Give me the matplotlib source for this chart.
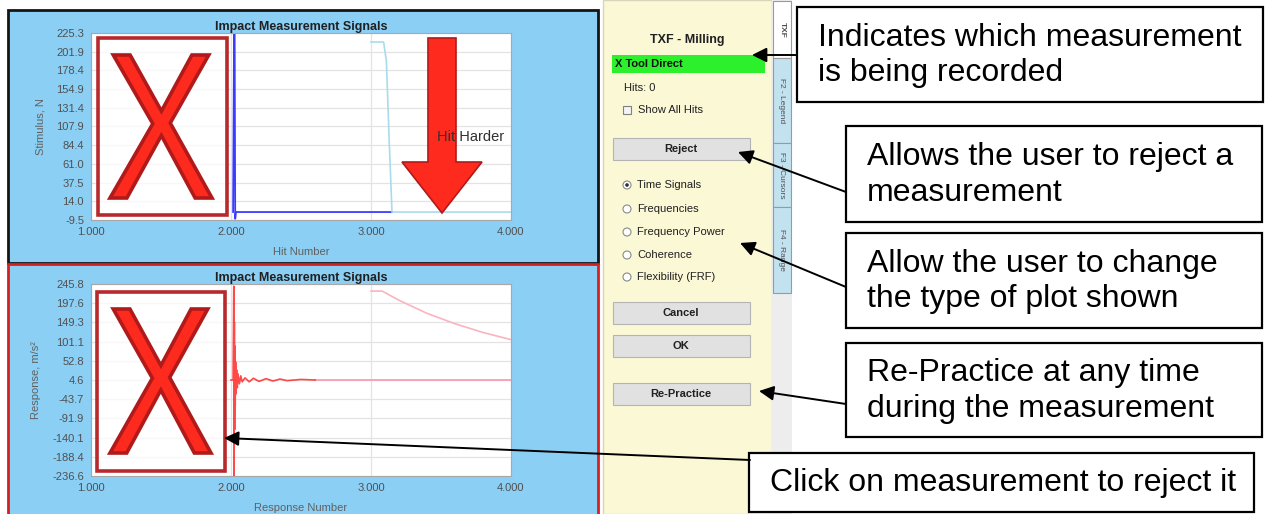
import matplotlib
matplotlib.use('Agg')
import matplotlib.pyplot as plt
from matplotlib.patches import Rectangle, Polygon, Circle, PathPatch
from matplotlib.textpath import TextPath
from matplotlib.font_manager import FontProperties
from matplotlib.transforms import Affine2D

plt.rcParams['font.family'] = ['Liberation Sans', 'DejaVu Sans']

# ---- data ----
hit_ticks = [1.0, 2.0, 3.0, 4.0]
hit_labels = ['1.000', '2.000', '3.000', '4.000']

stim_ticks = [-9.5, 14.0, 37.5, 61.0, 84.4, 107.9, 131.4, 154.9, 178.4, 201.9, 225.3]
resp_ticks = [-236.6, -188.4, -140.1, -91.9, -43.7, 4.6, 52.8, 101.1, 149.3, 197.6, 245.8]

# hit 2 force (blue) and hit 3 force (light blue)
stim2_x = [2.015, 2.022, 2.026, 2.03, 2.035, 2.04, 3.15]
stim2_y = [0.5, 226.0, 226.0, -8.0, 0.5, 0.5, 0.5]
stim3_x = [3.0, 3.09, 3.11, 3.13, 3.15, 4.0]
stim3_y = [214.0, 214.0, 190.0, 90.0, 0.5, 0.5]

# hit 2 response (red) and hit 3 response (pink)
resp2_x = [2.0, 2.015, 2.02, 2.022, 2.024, 2.026, 2.028, 2.03, 2.033, 2.036, 2.04,
           2.045, 2.05, 2.06, 2.07, 2.08, 2.1, 2.13, 2.16, 2.2, 2.25, 2.3, 2.35,
           2.4, 2.5, 2.6]
resp2_y = [4.6, 4.6, 240.0, -236.0, 150.0, -120.0, 90.0, -60.0, 50.0, -30.0, 30.0,
           -15.0, 20.0, -5.0, 15.0, 0.0, 10.0, 0.0, 9.0, 1.0, 8.0, 2.0, 7.0,
           3.0, 6.0, 4.6]
resp3_x = [3.0, 3.08, 3.2, 3.4, 3.6, 3.8, 4.0]
resp3_y = [228.0, 228.0, 205.0, 172.0, 146.0, 124.0, 106.0]
flat_x = [2.6, 4.0]
flat_y = [4.6, 4.6]

plot_types = ['Time Signals', 'Frequencies', 'Frequency Power', 'Coherence', 'Flexibility (FRF)']
tabs = ['TXF', 'F2 - Legend', 'F3 - Cursors', 'F4 - Range']
callouts = ['Indicates which measurement\nis being recorded',
            'Allows the user to reject a\nmeasurement',
            'Allow the user to change\nthe type of plot shown',
            'Re-Practice at any time\nduring the measurement',
            'Click on measurement to reject it']

W, H = 1275, 514
fig = plt.figure(figsize=(W / 100, H / 100), dpi=100)


def px_axes(x0, y0, x1, y1, z):
    ax = fig.add_axes([x0 / W, 1 - y1 / H, (x1 - x0) / W, (y1 - y0) / H])
    ax.set_zorder(z)
    return ax


def full_axes(z):
    ax = px_axes(0, 0, W, H, z)
    ax.set_xlim(0, W)
    ax.set_ylim(H, 0)
    ax.axis('off')
    ax.patch.set_alpha(0)
    return ax


bg = full_axes(0)
fg = full_axes(5)

# ---- window backgrounds ----
blue = '#8CCFF5'
bg.add_patch(Rectangle((8, 10), 590, 253, fc=blue, ec='#151515', lw=2))
bg.add_patch(Rectangle((8, 264), 590, 254, fc=blue, ec='#D42020', lw=2))
bg.add_patch(Rectangle((603, 0), 169, H, fc='#FBF8D6', ec='#D8D6B8', lw=1))
bg.add_patch(Rectangle((772, 0), 20, H, fc='#EDEDED', ec='none'))

# ---- plots ----
def style_plot(ax, ticks, xlabel, ylabel):
    ax.set_xlim(1, 4)
    ax.set_ylim(ticks[0], ticks[-1])
    ax.set_yticks(ticks)
    ax.set_yticklabels([f'{t:.1f}' for t in ticks])
    ax.set_xticks(hit_ticks)
    ax.set_xticklabels(hit_labels)
    ax.tick_params(length=0, labelsize=8, labelcolor='#505050', pad=5)
    ax.grid(color='#E3E3E3', lw=0.9)
    ax.set_axisbelow(True)
    for s in ax.spines.values():
        s.set_color('#A8A8A8')
    ax.set_title('Impact Measurement Signals', fontsize=9, fontweight='bold',
                 color='#202020', pad=2)
    ax.set_xlabel(xlabel, fontsize=8, color='#606060', labelpad=7)
    ax.set_ylabel(ylabel, fontsize=8, color='#606060', labelpad=8)


ax1 = px_axes(91, 33, 511, 220, 1)
style_plot(ax1, stim_ticks, 'Hit Number', 'Stimulus, N')
ax1.plot(stim2_x, stim2_y, color='#3C3CFF', lw=1.3)
ax1.plot(stim3_x, stim3_y, color='#A8DCEA', lw=1.2)

ax2 = px_axes(91, 284, 511, 476, 1)
style_plot(ax2, resp_ticks, 'Response Number', 'Response, m/s²')
ax2.plot(flat_x, flat_y, color='#F7A0B0', lw=1.3)
ax2.plot(resp3_x, resp3_y, color='#F9B4C0', lw=1.2)
ax2.plot(resp2_x, resp2_y, color='#FF2A2A', lw=1.2, alpha=0.85)


# ---- reject marks ----
def big_x(x0, y0, x1, y1):
    tp = TextPath((0, 0), 'X', size=1, prop=FontProperties(family='Liberation Sans'))
    ext = tp.get_extents()
    tr = (Affine2D().translate(-ext.x0, -ext.y0)
          .scale((x1 - x0) / ext.width, -(y1 - y0) / ext.height)
          .translate(x0, y1))
    fg.add_patch(PathPatch(tr.transform_path(tp), fc='#FF2A1E', ec='#B01A1A', lw=2.6))


for (bx0, by0, bx1, by1), (gx0, gy0, gx1, gy1) in [((98, 38, 227, 215), (110, 55, 212, 198)),
                                                   ((97, 292, 225, 471), (110, 309, 211, 453))]:
    fg.add_patch(Rectangle((bx0, by0), bx1 - bx0, by1 - by0, fc='white', alpha=0.75, ec='none'))
    fg.add_patch(Rectangle((bx0, by0), bx1 - bx0, by1 - by0, fc='none', ec='#B8292B', lw=2.6))
    big_x(gx0, gy0, gx1, gy1)

# hit harder arrow
fg.add_patch(Polygon([(428, 38), (456, 38), (456, 162), (482, 162), (442, 213),
                      (402, 162), (428, 162)], closed=True, fc='#FF2A1E', ec='#B01A1A', lw=1.2))
fg.text(437, 137, 'Hit Harder', fontsize=10.5, color='#303030', va='center', ha='left')

# ---- side control panel ----
bg.text(687, 40, 'TXF - Milling', fontsize=9, fontweight='bold', color='#202020',
        ha='center', va='center')
bg.add_patch(Rectangle((612, 55), 153, 18, fc='#2CF02C', ec='none'))
bg.text(615, 64, 'X Tool Direct', fontsize=8, fontweight='bold', color='#101010', va='center')
bg.text(624, 88, 'Hits: 0', fontsize=8, color='#202020', va='center')
bg.add_patch(Rectangle((623, 106), 8, 8, fc='#F4F4F4', ec='#808080', lw=0.8))
bg.text(638, 110, 'Show All Hits', fontsize=8, color='#202020', va='center')

for label, top in [('Reject', 138), ('Cancel', 302), ('OK', 335), ('Re-Practice', 383)]:
    bg.add_patch(Rectangle((613, top), 137, 22, fc='#E1E1E1', ec='#B4B4B4', lw=0.8))
    bg.text(681, top + 11, label, fontsize=8, fontweight='bold', color='#202020',
            ha='center', va='center')

for i, (label, yy) in enumerate(zip(plot_types, [185, 209, 232, 255, 277])):
    bg.add_patch(Circle((627, yy), 4, fc='white', ec='#8A8A8A', lw=0.8))
    if i == 0:
        bg.add_patch(Circle((627, yy), 1.8, fc='#303030', ec='none'))
    bg.text(637, yy, label, fontsize=8, color='#202020', va='center')

for label, (t0, t1), fc in zip(tabs, [(1, 58), (58, 143), (143, 207), (207, 293)],
                               ['white', '#C2E2F0', '#C2E2F0', '#C2E2F0']):
    bg.add_patch(Rectangle((773, t0), 18, t1 - t0, fc=fc, ec='#9A9A9A', lw=0.8))
    bg.text(782, (t0 + t1) / 2, label, fontsize=6, color='#505050', rotation=-90,
            ha='center', va='center', fontweight='bold' if label == 'TXF' else 'normal')

# ---- callouts ----
boxes = [(797, 7, 1263, 102), (846, 126, 1262, 222), (846, 233, 1262, 328),
         (846, 343, 1262, 437), (749, 453, 1254, 512)]
arrows = [((797, 55), (752, 55)), ((846, 192), (738, 152)), ((846, 287), (740, 243)),
          ((846, 404), (759, 391)), ((750, 460), (224, 438))]

for text, (x0, y0, x1, y1) in zip(callouts, boxes):
    fg.add_patch(Rectangle((x0, y0), x1 - x0, y1 - y0, fc='white', ec='black', lw=1.6))
    fg.text(x0 + 21, (y0 + y1) / 2 + 1, text, fontsize=23, color='black',
            ha='left', va='center', linespacing=1.25)

for start, tip in arrows:
    fg.annotate('', xy=tip, xytext=start,
                arrowprops=dict(arrowstyle='-|>', mutation_scale=22, lw=1.4,
                                color='black', shrinkA=0, shrinkB=0))

fig.savefig('out.png', dpi=100)
